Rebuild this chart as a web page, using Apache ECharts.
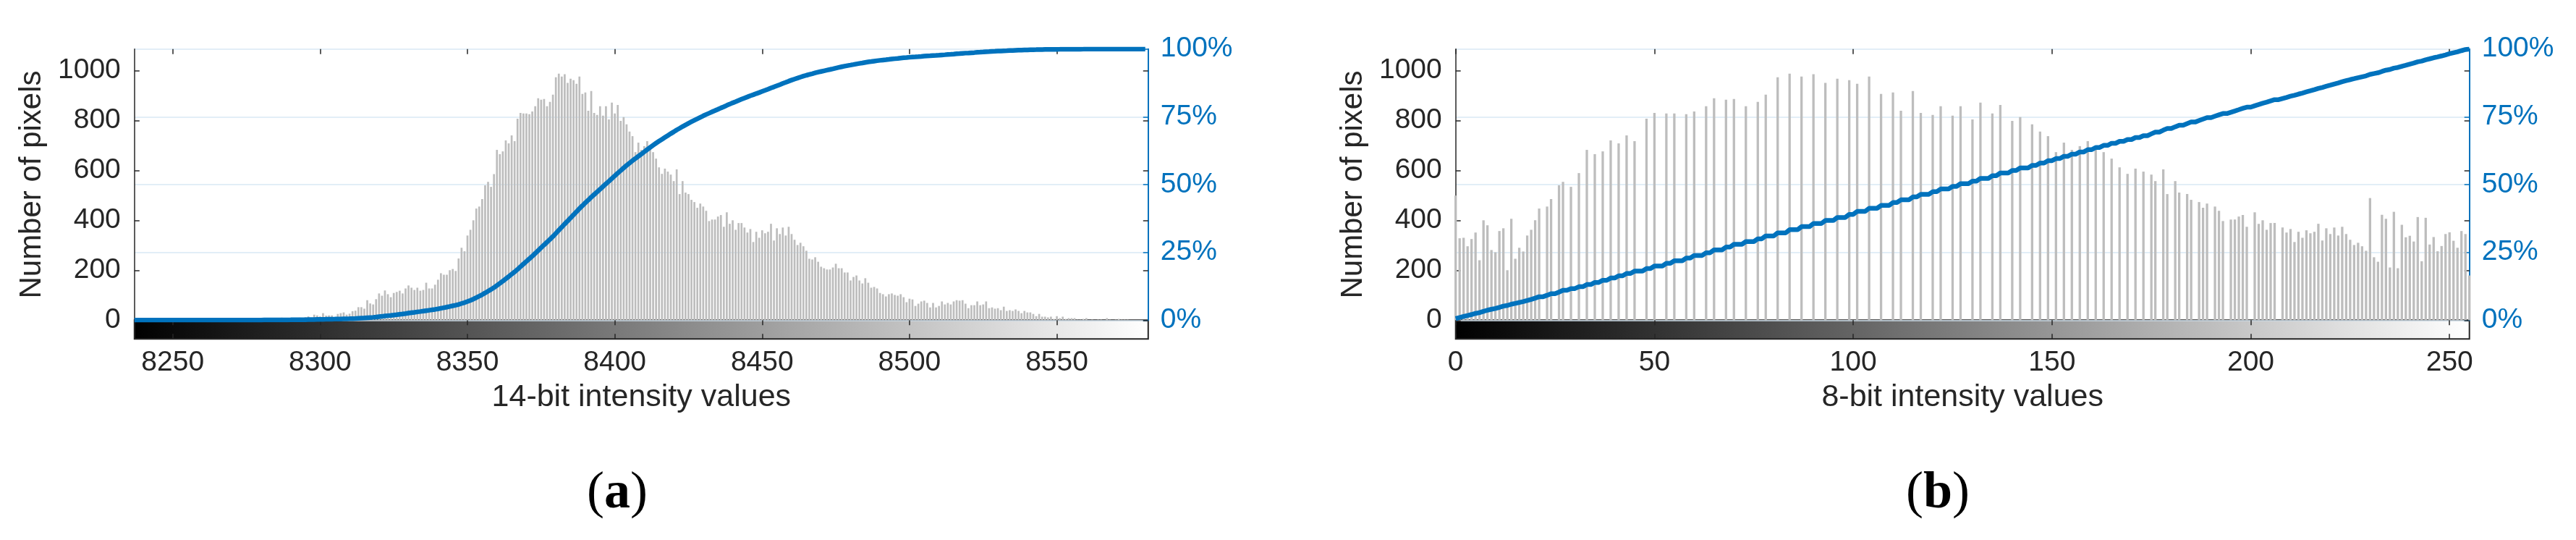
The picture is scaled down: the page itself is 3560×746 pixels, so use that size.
<!DOCTYPE html>
<html><head><meta charset="utf-8">
<script src="https://cdn.jsdelivr.net/npm/echarts@6/dist/echarts.min.js"></script>
<style>html,body{margin:0;padding:0;background:#fff}#c{width:3560px;height:746px}</style>
</head><body><div id="c"></div>
<script>
// ---------- data ----------
const bins14Start = 8237;
const bins14End = 8581;
const counts14 = [
 0,0,0,0,0,0,0,0,0,0,0,1,0,0,0,0,0,0,0,0,0,0,1,0,0,0,0,0,2,0,0,1,0,
 2,1,3,2,3,2,4,3,6,3,4,5,4,7,5,6,5,
 10,6,8,7,9,8,10,9,12,15,8,22,19,15,28,18,19,19,12,25,28,31,22,26,36,38,52,52,46,
 80,67,63,84,107,98,119,104,92,109,113,118,107,127,139,130,121,130,118,121,150,127,127,142,162,188,182,182,200,205,197,247,290,276,339,362,400,447,455,485,540,554,534,
 585,682,665,676,720,708,740,717,807,830,828,828,825,836,857,889,883,886,857,874,903,973,987,976,985,950,967,961,947,976,906,912,839,918,830,822,857,819,857,804,871,828,862,798,813,784,755,737,673,711,682,697,717,685,673,647,612,586,607,595,583,557,604,505,557,511,505,482,473,450,467,455,438,397,
 403,403,415,421,374,432,386,400,362,389,389,371,351,365,313,354,330,360,348,354,386,319,368,345,371,339,374,345,322,301,310,296,278,246,243,252,234,214,208,203,203,211,226,208,208,191,191,159,173,179,159,147,168,150,130,133,127,109,104,95,104,107,101,98,104,92,72,86,83,57,66,75,78,
 69,51,69,51,57,75,63,69,63,75,80,78,80,66,48,60,60,75,60,63,75,48,51,46,48,40,54,37,40,37,43,37,28,37,31,31,25,16,25,14,14,11,14,5,16,8,14,5,8,8,8,2,2,5,8,0,2,0,2,2,0,8,2,0,2,5,2,2,2,0,0,0,0,0,0
];
const bins8Start = 0;
const bins8End = 255;
const counts8 = [
 499,328,330,296,325,351,240,400,380,281,272,357,368,200,406,246,290,275,339,362,
 400,447,0,455,485,0,540,554,0,534,0,589,0,682,0,665,0,676,0,720,
 0,708,0,740,0,717,0,0,807,0,830,0,0,828,0,828,0,0,825,0,
 836,0,0,857,0,889,0,0,883,0,886,0,0,857,0,0,874,0,903,0,
 0,973,0,0,987,0,0,976,0,0,985,0,0,950,0,0,967,0,0,961,
 0,947,0,0,976,0,0,906,0,0,912,0,839,0,0,918,0,830,0,0,
 822,0,857,0,0,819,0,857,0,0,804,0,871,0,0,828,0,862,0,0,
 798,0,813,0,0,784,0,755,0,737,0,673,0,711,0,682,0,697,0,717,
 0,685,0,673,0,647,0,612,0,586,0,607,0,595,0,583,557,0,604,505,
 0,557,511,0,505,482,0,473,450,467,0,455,438,397,0,403,403,415,421,374,
 0,432,386,400,362,389,389,0,371,351,365,313,354,330,360,348,354,386,319,368,
 345,371,339,374,345,322,301,310,296,278,489,252,234,422,406,211,434,208,382,332,
 338,315,413,236,410,303,333,276,297,345,352,318,290,357,345,179
];
const ticks14 = [8250, 8300, 8350, 8400, 8450, 8500, 8550];
const ticks8 = [0, 50, 100, 150, 200, 250];
const countTicks = [0, 200, 400, 600, 800, 1000];
const pctTicks = [0, 25, 50, 75, 100];
const xTitles = ['14-bit intensity values', '8-bit intensity values'];
const yTitle = 'Number of pixels';
const captions = ['a', 'b'];

// ---------- derived ----------
function pairs(start, arr) { return arr.map((c, i) => [start + i, c]); }
function cumulativePct(start, arr) {
  const total = arr.reduce((a, b) => a + b, 0);
  let s = 0;
  return arr.map((c, i) => { s += c; return [start + i, s / total * 100]; });
}

// ---------- layout / style ----------
const LEFTS = [185.8, 2011.7];
const PW = 1401;
const TOP = 67.7, PH = 374.6, CBH = 26;
const BLUE = '#0072BD', DARK = '#262626', GRID = '#d9e8f4', BAR = '#bdbdbd';
const FONT = 'Liberation Sans';
const plain = v => String(v);
const panels = [
  {min: bins14Start, max: bins14End, ticks: ticks14, hist: pairs(bins14Start, counts14), cdf: cumulativePct(bins14Start, counts14), barW: 2.7},
  {min: bins8Start, max: bins8End, ticks: ticks8, hist: pairs(bins8Start, counts8), cdf: cumulativePct(bins8Start, counts8), barW: 3.3}
];

const grid = [], xAxis = [], yAxis = [], series = [], graphic = [];
panels.forEach((p, k) => {
  const gMain = grid.length;
  grid.push({left: LEFTS[k], top: TOP, width: PW, height: PH, containLabel: false});
  const gCb = grid.length;
  grid.push({left: LEFTS[k], top: TOP + PH, width: PW, height: CBH, show: true,
    backgroundColor: new echarts.graphic.LinearGradient(0, 0, 1, 0, [{offset: 0, color: '#000'}, {offset: 1, color: '#fff'}]),
    borderColor: DARK, borderWidth: 2});
  const xMain = xAxis.length;
  xAxis.push({gridIndex: gMain, type: 'value', position: 'top', min: p.min, max: p.max,
    axisLine: {show: false, onZero: false}, splitLine: {show: false},
    axisTick: {show: true, inside: true, length: 7, customValues: p.ticks, lineStyle: {color: DARK, width: 1.5}},
    axisLabel: {show: false}});
  xAxis.push({gridIndex: gCb, type: 'value', position: 'bottom', min: p.min, max: p.max,
    axisLine: {show: false, onZero: false}, splitLine: {show: false},
    axisTick: {show: true, inside: true, length: 7, customValues: p.ticks, lineStyle: {color: DARK, width: 1.5}},
    axisLabel: {show: true, customValues: p.ticks, formatter: plain, margin: 13, color: DARK, fontFamily: FONT, fontSize: 39},
    name: xTitles[k], nameLocation: 'middle', nameGap: 59,
    nameTextStyle: {color: DARK, fontFamily: FONT, fontSize: 43}});
  xAxis.push({gridIndex: gCb, type: 'value', position: 'top', min: p.min, max: p.max,
    axisLine: {show: false, onZero: false}, splitLine: {show: false},
    axisTick: {show: true, inside: true, length: 7, customValues: p.ticks, lineStyle: {color: DARK, width: 1.5}},
    axisLabel: {show: false}});
  const yLeft = yAxis.length;
  yAxis.push({gridIndex: gMain, type: 'value', position: 'left', min: 0, max: 1086,
    axisLine: {show: true, onZero: false, lineStyle: {color: DARK, width: 1.5}},
    axisTick: {show: true, inside: true, length: 7, customValues: countTicks, lineStyle: {color: DARK, width: 1.5}},
    axisLabel: {show: true, customValues: countTicks, formatter: plain, margin: 19, color: DARK, fontFamily: FONT, fontSize: 39},
    splitLine: {show: false},
    name: yTitle, nameLocation: 'middle', nameRotate: 90, nameGap: 120,
    nameTextStyle: {color: DARK, fontFamily: FONT, fontSize: 42}});
  const yRight = yAxis.length;
  yAxis.push({gridIndex: gMain, type: 'value', position: 'right', min: 0, max: 100, interval: 25,
    axisLine: {show: true, onZero: false, lineStyle: {color: BLUE, width: 2}},
    axisTick: {show: true, inside: true, length: 7, lineStyle: {color: BLUE, width: 1.5}},
    axisLabel: {show: true, margin: 17, color: BLUE, fontFamily: FONT, fontSize: 39, formatter: '{value}%'},
    splitLine: {show: true, lineStyle: {color: GRID, width: 1.5}}});
  yAxis.push({gridIndex: gMain, type: 'value', position: 'right', min: 0, max: 1086,
    axisLine: {show: false, onZero: false},
    axisTick: {show: true, inside: true, length: 7, customValues: countTicks, lineStyle: {color: DARK, width: 1.5}},
    axisLabel: {show: false}, splitLine: {show: false}});
  yAxis.push({gridIndex: gCb, type: 'value', min: 0, max: 1, show: false});

  series.push({type: 'bar', xAxisIndex: xMain, yAxisIndex: yLeft, data: p.hist, barWidth: p.barW,
    itemStyle: {color: BAR}, silent: true, z: 2});
  series.push({type: 'line', xAxisIndex: xMain, yAxisIndex: yRight, data: p.cdf, showSymbol: false, symbol: 'none',
    lineStyle: {color: BLUE, width: 6.5}, silent: true, z: 3, clip: true});
});

graphic.push({type: 'text', x: 853, y: 682, style: {text: '({b|' + captions[0] + '})', fill: '#000', font: '72px "Liberation Serif"', align: 'center', verticalAlign: 'middle',
  rich: {b: {fontWeight: 'bold', fontSize: 72, fontFamily: 'Liberation Serif'}}}});
graphic.push({type: 'text', x: 2678, y: 682, style: {text: '({b|' + captions[1] + '})', fill: '#000', font: '72px "Liberation Serif"', align: 'center', verticalAlign: 'middle',
  rich: {b: {fontWeight: 'bold', fontSize: 72, fontFamily: 'Liberation Serif'}}}});

const chart = echarts.init(document.getElementById('c'), null, {renderer: 'canvas'});
chart.setOption({animation: false, backgroundColor: '#fff', grid, xAxis, yAxis, series, graphic});
</script>
</body></html>
